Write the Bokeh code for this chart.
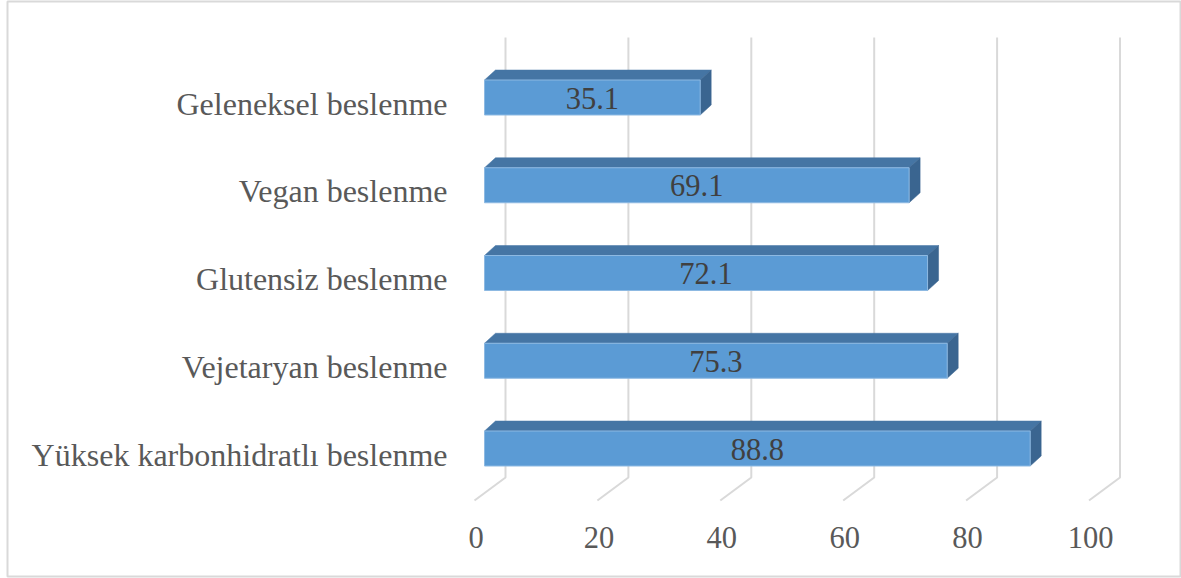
from bokeh.plotting import figure
from bokeh.models import Range1d, ColumnDataSource
from bokeh.core.properties import value
from bokeh.embed import file_html
from bokeh.resources import INLINE

# ---- data -------------------------------------------------------------
categories = [
    "Geleneksel beslenme",
    "Vegan beslenme",
    "Glutensiz beslenme",
    "Vejetaryan beslenme",
    "Yüksek karbonhidratlı beslenme",
]
values = [35.1, 69.1, 72.1, 75.3, 88.8]
ticks = [0, 20, 40, 60, 80, 100]
tick_labels = ["0", "20", "40", "60", "80", "100"]

# ---- geometry (pixel based, converted to data units) -------------------
W, H = 1181, 578
PX_X = 6.145      # pixels per value unit
PX_Y = 87.75      # pixels per category row
ux = 1.0 / PX_X
uy = 1.0 / PX_Y   # y range is flipped: +uy moves down

LEFT, TOP, BOTTOM = 7, 1, 576
X0_PX = 474       # front edge of the floor at value 0
Y0_PX = 97        # centre of the first bar's front face

FONT = value("Liberation Serif")
GRID = "#D9D9D9"

p = figure(
    width=W, height=H,
    x_range=Range1d((LEFT - X0_PX) * ux, (W - X0_PX) * ux),
    y_range=Range1d((BOTTOM - Y0_PX) * uy, (TOP - Y0_PX) * uy),
    x_axis_location=None, y_axis_location=None,
    toolbar_location=None, output_backend="svg",
    min_border_left=LEFT, min_border_top=TOP,
    min_border_bottom=H - BOTTOM, min_border_right=0,
)
p.grid.grid_line_color = None
p.outline_line_color = GRID
p.outline_line_width = 2
p.background_fill_color = "white"
p.border_fill_color = "white"

# ---- back wall gridlines with their floor segments ---------------------
wall_dx = 31 * ux
g_top = (37 - Y0_PX) * uy
g_floor_back = (477 - Y0_PX) * uy
g_floor_front = (500 - Y0_PX) * uy
p.multi_line(
    xs=[[t + wall_dx, t + wall_dx, t] for t in ticks],
    ys=[[g_top, g_floor_back, g_floor_front] for _ in ticks],
    line_color=GRID, line_width=2,
)

# ---- 3D bars -------------------------------------------------------------
front_off = 10 * ux
half_h = 17.5 * uy
dx, dy = 11 * ux, -10 * uy
rows = list(range(len(categories)))

xl = [front_off for _ in values]
xr = [v + front_off for v in values]
yt = [r - half_h for r in rows]
yb = [r + half_h for r in rows]

p.patches(
    xs=[[a, b, b + dx, a + dx] for a, b in zip(xl, xr)],
    ys=[[t, t, t + dy, t + dy] for t in yt],
    fill_color="#4575A4", line_color="#4575A4", line_width=0.5,
)
p.patches(
    xs=[[b, b + dx, b + dx, b] for b in xr],
    ys=[[t, t + dy, bo + dy, bo] for t, bo in zip(yt, yb)],
    fill_color="#3A6590", line_color="#3A6590", line_width=0.5,
)
p.quad(
    left=xl, right=xr, top=yt, bottom=yb,
    fill_color="#5B9BD5", line_color="#8DB9E2", line_width=1,
)

# ---- texts ---------------------------------------------------------------
cat_src = ColumnDataSource(dict(
    x=[(447 - X0_PX) * ux for _ in categories],
    y=[r + 6 * uy for r in rows],
    text=categories,
))
p.text(x="x", y="y", text="text", source=cat_src,
       text_font=FONT, text_font_size="32px", text_color="#595959",
       text_align="right", text_baseline="middle")

val_src = ColumnDataSource(dict(
    x=[(a + b) / 2 for a, b in zip(xl, xr)],
    y=[r + 0.5 * uy for r in rows],
    text=[f"{v:.1f}" for v in values],
))
p.text(x="x", y="y", text="text", source=val_src,
       text_font=FONT, text_font_size="30.5px", text_color="#404040",
       text_align="center", text_baseline="middle")

tick_src = ColumnDataSource(dict(
    x=[t + 1.5 * ux for t in ticks],
    y=[(537 - Y0_PX) * uy for _ in ticks],
    text=tick_labels,
))
p.text(x="x", y="y", text="text", source=tick_src,
       text_font=FONT, text_font_size="30.5px", text_color="#595959",
       text_align="center", text_baseline="middle")

open("out.html", "w").write(file_html(p, INLINE))
